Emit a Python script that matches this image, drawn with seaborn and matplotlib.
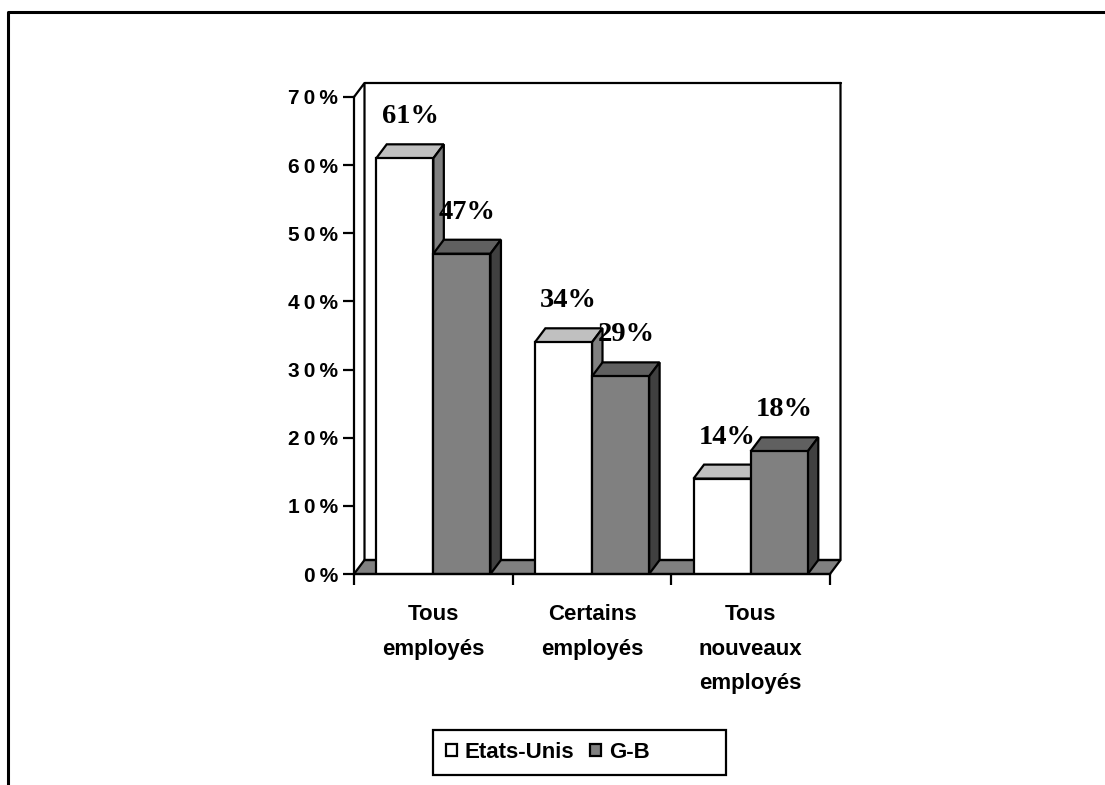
"""
Barres 3D (style Excel) : Etats-Unis / G-B, part des employés.
"""
import numpy as np
import pandas as pd
import matplotlib
matplotlib.use('Agg')
import matplotlib.pyplot as plt
from matplotlib.lines import Line2D
from matplotlib.patches import Patch, Polygon, Rectangle
import seaborn as sns

CATEGORIES = ["Tous\nemployés", "Certains\nemployés", "Tous\nnouveaux\nemployés"]
SERIES = ["Etats-Unis", "G-B"]
US_VALUES = [61, 34, 14]
GB_VALUES = [47, 29, 18]
Y_TICKS = [0, 10, 20, 30, 40, 50, 60, 70]

W, H = 1105, 785
FRONT = {"Etats-Unis": "#FFFFFF", "G-B": "#808080"}
TOP = {"Etats-Unis": "#C0C0C0", "G-B": "#606060"}
SIDE = {"Etats-Unis": "#808080", "G-B": "#404040"}
LW = 1.6

df = pd.DataFrame({
    "cat": CATEGORIES * 2,
    "serie": [SERIES[0]] * 3 + [SERIES[1]] * 3,
    "val": US_VALUES + GB_VALUES,
})

sns.set_theme(style="white")
plt.rcParams['font.family'] = ['Liberation Sans', 'DejaVu Sans']
plt.rcParams['text.color'] = 'black'

fig = plt.figure(figsize=(W / 100, H / 100), dpi=100)
ax = fig.add_axes([354 / W, 1 - 574 / H, 476 / W, 477 / H])
ax.set_facecolor('none')

sns.barplot(data=df, x="cat", y="val", hue="serie", hue_order=SERIES, palette=FRONT,
            width=0.72, gap=0, edgecolor='black', linewidth=LW, legend=False, ax=ax, zorder=3)
ax.set_xlim(-0.5, 2.5)
ax.set_ylim(0, 70)

# profondeur 3D en unités de données
dx = 10.5 / 476 * 3
dy = 14 / 477 * 70

# fond et sol
ax.add_patch(Polygon([(-0.5, 0), (-0.5 + dx, dy), (2.5 + dx, dy), (2.5, 0)], closed=True,
                     fc='#808080', ec='black', lw=LW, zorder=1, clip_on=False))
ax.add_line(Line2D([-0.5, -0.5 + dx, -0.5 + dx, 2.5 + dx, 2.5 + dx], [70, 70 + dy, dy, dy, 70 + dy],
                   color='black', lw=LW, zorder=1, clip_on=False))
ax.add_line(Line2D([-0.5 + dx, 2.5 + dx], [70 + dy, 70 + dy], color='black', lw=LW, zorder=1, clip_on=False))

# faces du dessus et de côté, valeurs
bars = [p for p in ax.patches if isinstance(p, Rectangle)][:6]
for i, p in enumerate(bars):
    serie = SERIES[i // 3]
    order = 3 + i // 3 * 0.5
    p.set_zorder(order + 0.2)
    x0, x1, h = p.get_x(), p.get_x() + p.get_width(), p.get_height()
    ax.add_patch(Polygon([(x0, h), (x0 + dx, h + dy), (x1 + dx, h + dy), (x1, h)], closed=True,
                         fc=TOP[serie], ec='black', lw=LW, zorder=order, clip_on=False))
    ax.add_patch(Polygon([(x1, 0), (x1, h), (x1 + dx, h + dy), (x1 + dx, dy)], closed=True,
                         fc=SIDE[serie], ec='black', lw=LW, zorder=order, clip_on=False))
    ax.text((x0 + x1) / 2 + dx / 2, h + dy + 4.05, f"{h:.0f}%", ha='center', va='center', fontsize=20.5,
            fontweight='bold', family='Liberation Serif', color='black', zorder=6, clip_on=False)

sns.despine(ax=ax, top=True, right=True)
for s in ['left', 'bottom']:
    ax.spines[s].set_linewidth(LW)
    ax.spines[s].set_color('black')
    ax.spines[s].set_zorder(5)

# les chiffres de l'axe sont espacés dans l'original
ax.set_yticks(Y_TICKS)
ax.set_yticklabels(["\u2009".join(f"{v}%") for v in Y_TICKS], fontsize=15, fontweight='bold', color='black')
ax.set_xticks([-0.5, 0.5, 1.5, 2.5], labels=[])
ax.tick_params(axis='both', length=8, width=LW, color='black', direction='out', left=True, bottom=True)
ax.tick_params(axis='y', pad=3.5)
ax.set_xlabel('')
ax.set_ylabel('')
for i, c in enumerate(CATEGORIES):
    ax.annotate(c, xy=(i, 0), xytext=(0, -21.5), xycoords=('data', 'axes fraction'), textcoords='offset points',
                ha='center', va='top', fontsize=16, fontweight='bold', linespacing=1.86, color='black')

# légende : cadre dessiné à part, il est plus large que son contenu
fig.add_artist(Rectangle((433 / W, 1 - 775 / H), 293 / W, 45 / H, transform=fig.transFigure,
                         fc='white', ec='black', lw=LW))
handles = [Patch(fc=FRONT[s], ec='black', lw=LW, label=s) for s in SERIES]
leg = fig.legend(handles=handles, loc='center left', bbox_to_anchor=(446 / W, 1 - 752.5 / H), ncol=2, frameon=False,
                 borderpad=0, borderaxespad=0, handlelength=0.5, handleheight=0.5,
                 handletextpad=0.35, columnspacing=0.7,
                 prop={'weight': 'bold', 'size': 16, 'family': 'Liberation Sans'})
for t in leg.get_texts():
    t.set_color('black')

# cadre extérieur, sans côté droit
fig.add_artist(Line2D([7.5 / W, 7.5 / W, 1], [0, 1 - 11.5 / H, 1 - 11.5 / H], color='black', lw=2.2))

fig.savefig("out.png", dpi=100)
